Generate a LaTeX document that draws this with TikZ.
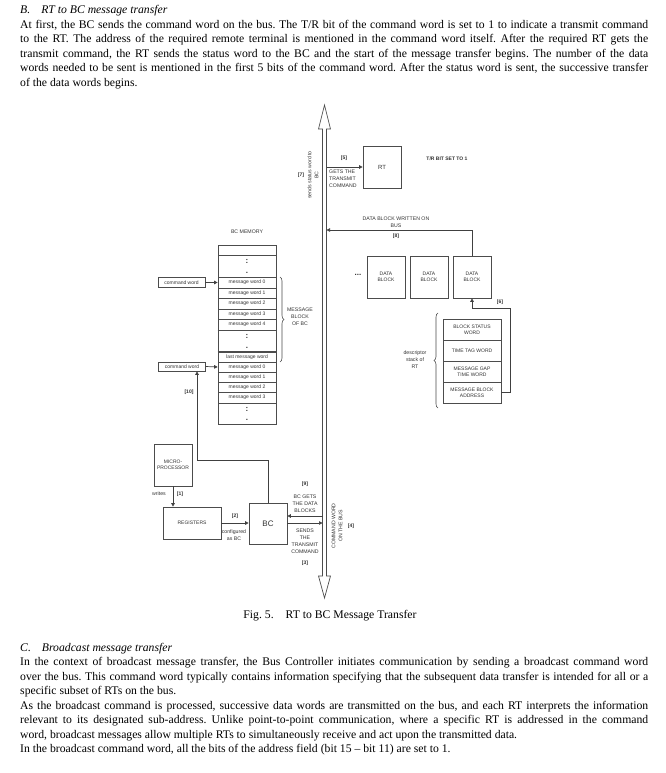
\documentclass[tikz,border=0pt]{standalone}
\usepackage{fontspec}
\setmainfont{Liberation Serif}
\setsansfont{Liberation Sans}
\usetikzlibrary{arrows.meta,decorations.pathreplacing}
\tikzset{
  ln/.style={draw=black!70, line width=0.7pt},
  box/.style={draw=black!70, line width=0.7pt, fill=white, inner sep=0pt, font=\sffamily\fontsize{5}{6}\selectfont, text=black!80, align=center},
  lbl/.style={font=\sffamily\fontsize{5.2}{7}\selectfont, text=black!80, align=center, inner sep=0pt},
  tag/.style={font=\sffamily\bfseries\fontsize{5}{6}\selectfont, text=black!80, inner sep=0pt},
  dotm/.style={font=\sffamily\bfseries\fontsize{8}{8}\selectfont, text=black!80, inner sep=0pt},
  arr/.style={draw=black!75, line width=0.7pt, -{Triangle[length=3.5pt,width=3.5pt]}},
  body/.style={font=\fontsize{11.7}{14}\selectfont, anchor=base west, inner sep=0pt},
  brc/.style={draw=black!70, line width=0.6pt, decorate, decoration={brace, amplitude=4pt}},
}
\newcommand{\jline}[1]{\makebox[628pt][s]{#1}}
\frenchspacing
\begin{document}
\begin{tikzpicture}[x=1pt,y=-1pt]
\useasboundingbox (0,0) rectangle (665,773);
\fill[white] (0,0) rectangle (665,773);

% ---------- top text
\node[body] (hB) at (20,14) {\textit{B.\hspace{11pt}RT to BC message transfer}};
\node[body] (b1) at (20,28.5) {\jline{At first, the BC sends the command word on the bus. The T/R bit of the command word is set to 1 to indicate a transmit command}};
\node[body] (b2) at (20,43) {\jline{to the RT. The address of the required remote terminal is mentioned in the command word itself. After the required RT gets the}};
\node[body] (b3) at (20,57.5) {\jline{transmit command, the RT sends the status word to the BC and the start of the message transfer begins. The number of the data}};
\node[body] (b4) at (20,72) {\jline{words needed to be sent is mentioned in the first 5 bits of the command word. After the status word is sent, the successive transfer}};
\node[body] (b5) at (20,86.5) {of the data words begins.};

% ---------- bus
\draw[ln, fill=white] (324.5,105) -- (330.5,129) -- (326.5,129) -- (326.5,576) -- (330.5,576) -- (324.5,598)
  -- (318.5,576) -- (322.5,576) -- (322.5,129) -- (318.5,129) -- cycle;
\coordinate (busR5) at (326.5,167);
\coordinate (busR8) at (326.5,230);
\coordinate (busL9) at (322.5,516);
\coordinate (busL3) at (322.5,523);

\node[lbl, rotate=90] (sst) at (313,175) {sends status word to\\BC};
\node[tag] (t7) at (301,175) {[7]};

% ---------- RT side
\node[box, minimum width=38pt, minimum height=42pt, font=\sffamily\fontsize{6}{7}\selectfont] (rt) at (382,167) {RT};
\draw[arr] (busR5) -- (rt.west |- busR5);
\node[tag] (t5) at (344,158) {[5]};
\node[lbl, anchor=north west, align=left] (gets) at (329,170) {GETS THE\\TRANSMIT\\COMMAND};
\node[tag] (trbit) at (447,159) {T/R BIT SET TO 1};

\node[box, minimum width=38pt, minimum height=42pt] (db1) at (386,277) {DATA\\BLOCK};
\node[box, minimum width=38pt, minimum height=42pt] (db2) at (429,277) {DATA\\BLOCK};
\node[box, minimum width=38pt, minimum height=42pt] (db3) at (472,277) {DATA\\BLOCK};
\node[dotm] (dots) at (358,275) {...};
\draw[arr] (db3.north) |- (busR8);
\node[lbl] (dbw) at (396,222.5) {DATA BLOCK WRITTEN ON\\BUS};
\node[tag] (t8) at (396,236) {[8]};

\node[box, minimum width=58pt, minimum height=21pt] (bsw) at (472,329.5) {BLOCK STATUS\\WORD};
\node[box, minimum width=58pt, minimum height=21pt] (ttw) at (472,350.5) {TIME TAG WORD};
\node[box, minimum width=58pt, minimum height=21pt] (mgt) at (472,371.5) {MESSAGE GAP\\TIME WORD};
\node[box, minimum width=58pt, minimum height=21pt] (mba) at (472,392.5) {MESSAGE BLOCK\\ADDRESS};
\coordinate (r6a) at (510,392.5);
\coordinate (r6b) at (510,308);
\draw[arr] (mba.east) -- (r6a) -- (r6b) -| (db3.south);
\node[tag] (t6) at (500,302) {[6]};
\draw[brc] (438,408) -- (438,313);
\node[lbl] (desc) at (415,360) {descriptor\\stack of\\RT};

% ---------- BC memory
\node[lbl] (bcm) at (247,232) {BC MEMORY};
\node[box, minimum width=58pt, minimum height=10pt] (m0) at (247,250) {};
\node[box, minimum width=58pt, minimum height=22pt] (d1) at (247,266) {};
\node[box, minimum width=58pt, minimum height=11pt] (w0) at (247,282.5) {message word 0};
\node[box, minimum width=58pt, minimum height=10pt] (w1) at (247,293) {message word 1};
\node[box, minimum width=58pt, minimum height=11pt] (w2) at (247,303.5) {message word 2};
\node[box, minimum width=58pt, minimum height=10pt] (w3) at (247,314) {message word 3};
\node[box, minimum width=58pt, minimum height=11pt] (w4) at (247,324.5) {message word 4};
\node[box, minimum width=58pt, minimum height=22pt] (d2) at (247,341) {};
\node[box, minimum width=58pt, minimum height=10pt] (wl) at (247,357) {last message word};
\node[box, minimum width=58pt, minimum height=10pt] (v0) at (247,367) {message word 0};
\node[box, minimum width=58pt, minimum height=10pt] (v1) at (247,377) {message word 1};
\node[box, minimum width=58pt, minimum height=10pt] (v2) at (247,387) {message word 2};
\node[box, minimum width=58pt, minimum height=11pt] (v3) at (247,397.5) {message word 3};
\node[box, minimum width=58pt, minimum height=21pt] (d3) at (247,413.5) {};
\draw[black!70, line width=1.1pt] (w4.south west) -- (w4.south east);
\draw[black!70, line width=1.1pt] (wl.north west) -- (wl.north east);
\foreach \n in {d1,d2,d3}{
  \node[dotm] at ([yshift=-7pt]\n.north) {:};
  \node[dotm] at ([yshift=4pt]\n.south) {.};
}
\node[box, minimum width=47pt, minimum height=10pt] (cw1) at (181.5,282.5) {command word};
\node[box, minimum width=47pt, minimum height=9pt] (cw2) at (182,366.5) {command word};
\draw[arr] (cw1.east) -- (w0.west);
\draw[arr] (cw2.east) -- (v0.west);
\draw[brc] (280,277) -- (280,362);
\node[lbl] (mbb) at (300,317) {MESSAGE\\BLOCK\\OF BC};

% ---------- lower part
\node[box, minimum width=38pt, minimum height=42pt] (mp) at (173,465) {MICRO-\\PROCESSOR};
\node[box, minimum width=58pt, minimum height=32pt] (reg) at (192,523) {REGISTERS};
\node[box, minimum width=38pt, minimum height=41pt, font=\sffamily\fontsize{8}{9}\selectfont] (bc) at (268,523.5) {BC};
\draw[arr] (mp.south) -- (mp.south |- reg.north);
\node[lbl] (wr) at (159,494) {writes};
\node[tag] (t1) at (180,494) {[1]};
\draw[arr] (reg.east) -- (reg.east -| bc.west);
\node[tag] (t2) at (235,516) {[2]};
\node[lbl] (cfg) at (234,535.5) {configured\\as BC};
\coordinate (k10) at (197,460);
\draw[arr] (bc.north) |- (k10) -- (k10 |- cw2.south);
\node[tag] (t10) at (189,392) {[10]};

\draw[arr] (busL9) -- (busL9 -| bc.east);
\draw[arr] (bc.east |- busL3) -- (busL3);
\node[tag] (t9) at (305,484) {[9]};
\node[lbl] (bcg) at (305,504) {BC GETS\\THE DATA\\BLOCKS};
\node[lbl] (snd) at (305,541) {SENDS\\THE\\TRANSMIT\\COMMAND};
\node[tag] (t3) at (305,563) {[3]};
\node[lbl, rotate=90] (cwb) at (337,526) {COMMAND WORD\\ON THE BUS};
\node[tag] (t4) at (351,526) {[4]};

% ---------- caption and bottom text
\node[body, anchor=base] (cap) at (330,618) {Fig. 5.\hspace{12pt}RT to BC Message Transfer};
\node[body] (hC) at (20,651) {\textit{C.\hspace{11pt}Broadcast message transfer}};
\node[body] (c1) at (20,665.5) {\jline{In the context of broadcast message transfer, the Bus Controller initiates communication by sending a broadcast command word}};
\node[body] (c2) at (20,680) {\jline{over the bus. This command word typically contains information specifying that the subsequent data transfer is intended for all or a}};
\node[body] (c3) at (20,694.5) {specific subset of RTs on the bus.};
\node[body] (c4) at (20,709) {\jline{As the broadcast command is processed, successive data words are transmitted on the bus, and each RT interprets the information}};
\node[body] (c5) at (20,723.5) {\jline{relevant to its designated sub-address. Unlike point-to-point communication, where a specific RT is addressed in the command}};
\node[body] (c6) at (20,738) {word, broadcast messages allow multiple RTs to simultaneously receive and act upon the transmitted data.};
\node[body] (c7) at (20,752.5) {In the broadcast command word, all the bits of the address field (bit 15 -- bit 11) are set to 1.};
\end{tikzpicture}
\end{document}
